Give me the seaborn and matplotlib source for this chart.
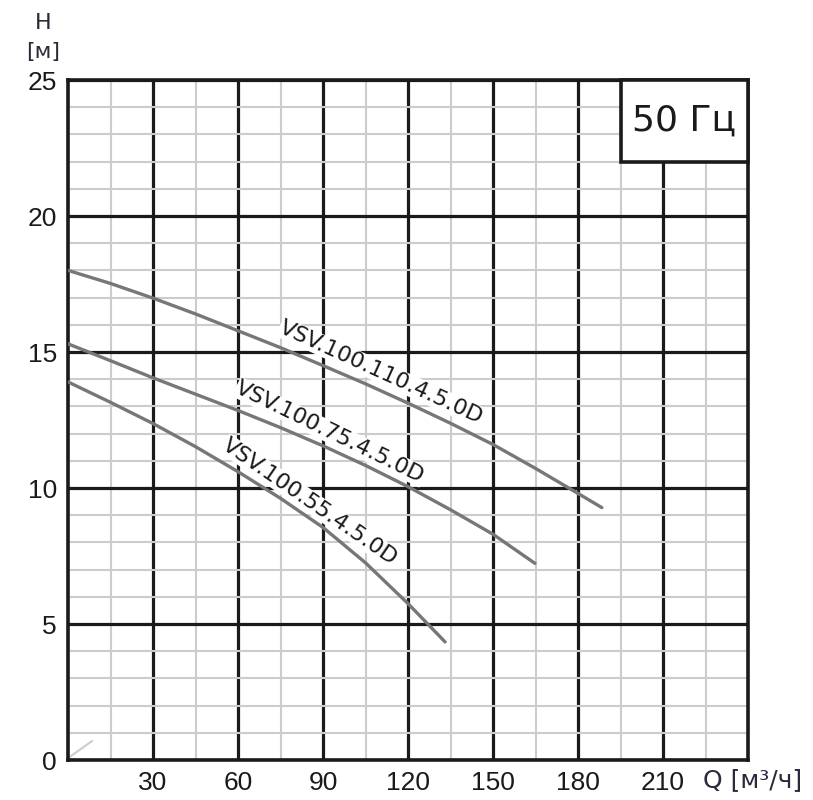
import numpy as np
import pandas as pd
import matplotlib
matplotlib.use("Agg")
import matplotlib.pyplot as plt
from matplotlib.patches import Rectangle
from matplotlib.ticker import MultipleLocator, FixedLocator
import seaborn as sns

# pump curves (Q in m3/h, H in m)
q_110 = [0, 15, 30, 45, 60, 75, 90, 105, 120, 135, 150, 165, 180, 188.4]
h_110 = [18.0, 17.52, 16.98, 16.4, 15.78, 15.16, 14.5, 13.83, 13.12, 12.38, 11.6, 10.72, 9.8, 9.28]
q_75 = [0, 15, 30, 45, 60, 75, 90, 105, 120, 135, 150, 164.8]
h_75 = [15.3, 14.68, 14.05, 13.45, 12.85, 12.22, 11.55, 10.83, 10.05, 9.2, 8.3, 7.23]
q_55 = [0, 15, 30, 45, 60, 75, 90, 105, 120, 133.1]
h_55 = [13.9, 13.15, 12.37, 11.52, 10.6, 9.62, 8.55, 7.25, 5.75, 4.34]

names = ["VSV.100.110.4.5.0D", "VSV.100.75.4.5.0D", "VSV.100.55.4.5.0D"]
# label centre (Q, H) and angle in screen degrees
label_q = [110.5, 92.5, 85.4]
label_h = [14.25, 12.05, 9.5]
label_rot = [-24.5, -26.0, -34.5]

x_ticks = [30, 60, 90, 120, 150, 180, 210]
y_ticks = [0, 5, 10, 15, 20, 25]

df = pd.concat([
    pd.DataFrame({"Q": q_110, "H": h_110, "pump": names[0]}),
    pd.DataFrame({"Q": q_75, "H": h_75, "pump": names[1]}),
    pd.DataFrame({"Q": q_55, "H": h_55, "pump": names[2]}),
])

sns.set_style("white")
plt.rcParams["font.family"] = ["DejaVu Sans"]

fig = plt.figure(figsize=(8.13, 8.0), dpi=100)
ax = fig.add_axes([68 / 813, 40 / 800, 680 / 813, 680 / 800])

ax.set_xlim(0, 240)
ax.set_ylim(0, 25)
ax.xaxis.set_major_locator(FixedLocator(x_ticks))
ax.yaxis.set_major_locator(FixedLocator(y_ticks))
ax.xaxis.set_minor_locator(MultipleLocator(15))
ax.yaxis.set_minor_locator(MultipleLocator(1))
ax.grid(which="minor", color="#cccccc", lw=1.5, zorder=0)
ax.grid(which="major", color="#1a1a1a", lw=2.3, zorder=1)
ax.set_axisbelow(True)
for s in ax.spines.values():
    s.set_color("#1a1a1a")
    s.set_linewidth(2.6)
ax.tick_params(which="both", length=0)
ax.tick_params(axis="x", pad=8)
ax.tick_params(axis="y", pad=8)
for lab in ax.get_xticklabels() + ax.get_yticklabels():
    lab.set_fontfamily("Liberation Sans")
    lab.set_fontsize(19)
    lab.set_color("#1a1a1a")

sns.lineplot(data=df, x="Q", y="H", units="pump", estimator=None, sort=False,
             color="#777777", lw=2.4, ax=ax, zorder=4)
ax.set_xlabel("")
ax.set_ylabel("")

# small stray stroke near the origin
ax.plot([0, 8.5], [0.07, 0.7], color="#cccccc", lw=1.5, zorder=2)

for n, q, h, r in zip(names, label_q, label_h, label_rot):
    ax.text(q, h, n, rotation=r, rotation_mode="anchor", ha="center", va="center",
            fontsize=16, color="#1a1a1a", zorder=3,
            bbox=dict(facecolor="white", edgecolor="none", pad=0.5))

ax.add_patch(Rectangle((195, 22), 45, 3, facecolor="white", edgecolor="#1a1a1a",
                       lw=2.6, zorder=5, clip_on=False))
ax.text(217.5, 23.5, "50 Гц", ha="center", va="center", fontsize=26,
        color="#1a1a1a", zorder=6)

fig.text(43 / 813, 1 - 23 / 800, "H", ha="center", va="center", fontsize=16, color="#2a2a3a")
fig.text(43 / 813, 1 - 52 / 800, "[м]", ha="center", va="center", fontsize=16, color="#2a2a3a")
fig.text(753 / 813, 1 - 780 / 800, "Q [м³/ч]", ha="center", va="center", fontsize=18,
         color="#2a2a3a")

fig.savefig("out.png", dpi=100)
